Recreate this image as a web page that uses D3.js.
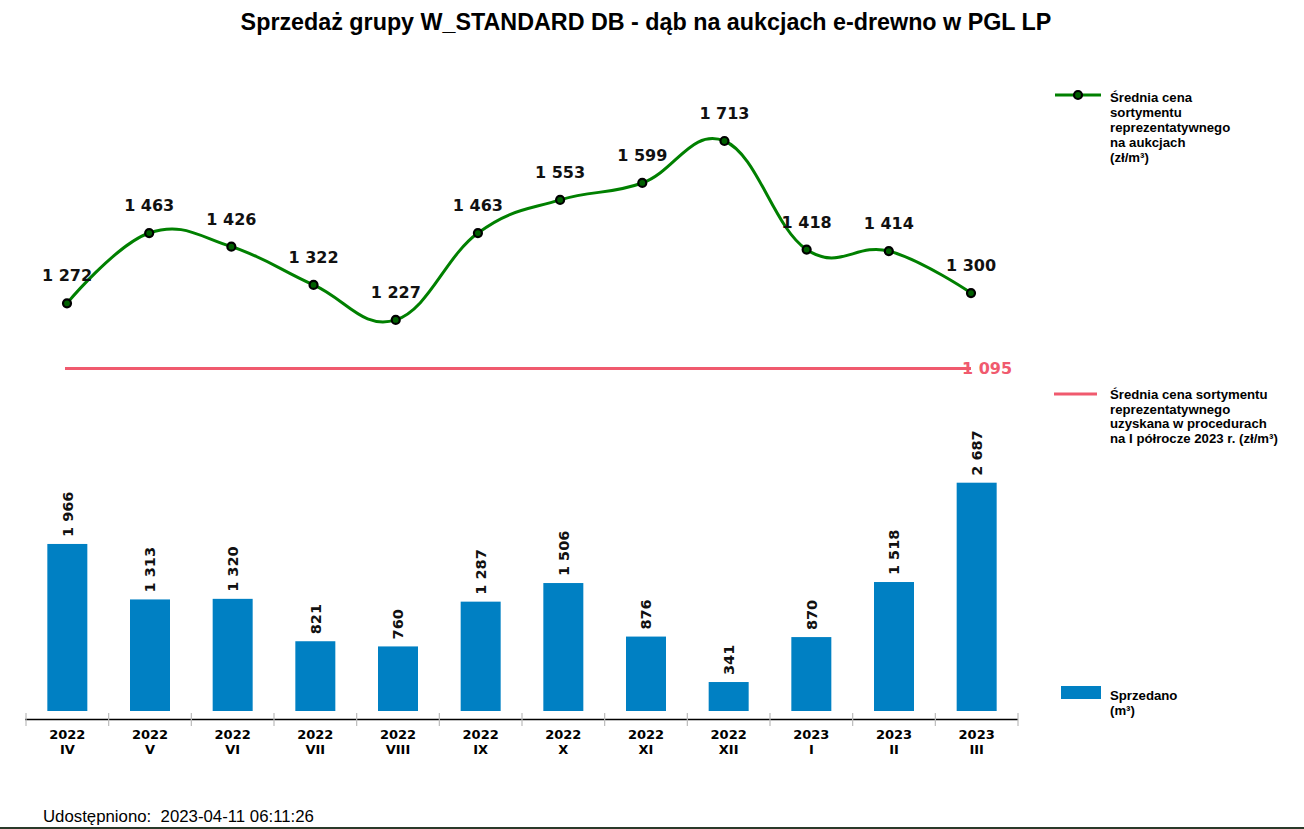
<!DOCTYPE html>
<html>
<head>
<meta charset="utf-8">
<script src="https://cdn.jsdelivr.net/npm/d3@7"></script>
<style>
  html, body { margin: 0; padding: 0; background: #fff; }
  svg { display: block; }
</style>
</head>
<body>
<script>
// ---- data ----
const years = ["2022","2022","2022","2022","2022","2022","2022","2022","2022","2023","2023","2023"];
const months = ["IV","V","VI","VII","VIII","IX","X","XI","XII","I","II","III"];
const soldValues = [1966, 1313, 1320, 821, 760, 1287, 1506, 876, 341, 870, 1518, 2687];
const priceValues = [1272, 1463, 1426, 1322, 1227, 1463, 1553, 1599, 1713, 1418, 1414, 1300];
const referencePrice = 1095;
const titleText = "Sprzedaż grupy W_STANDARD DB - dąb na aukcjach e-drewno w PGL LP";
const footerText = "Udostępniono:  2023-04-11 06:11:26";
const legendPrice = ["Średnia cena", "sortymentu", "reprezentatywnego", "na aukcjach", "(zł/m³)"];
const legendRef = ["Średnia cena sortymentu", "reprezentatywnego", "uzyskana w procedurach", "na I półrocze 2023 r. (zł/m³)"];
const legendSold = ["Sprzedano", "(m³)"];

const W = 1304, H = 829;
const fmt = v => d3.format(",")(v).replace(/,/g, " ");
const numFont = "'DejaVu Sans', sans-serif";
const txtFont = "'Liberation Sans', Arial, sans-serif";

const svg = d3.select("body").append("svg").attr("width", W).attr("height", H);

const idx = d3.range(soldValues.length);

// scales
const xBand = d3.scaleBand().domain(idx).range([26, 1018]).padding(0);
const xPoint = d3.scalePoint().domain(idx).range([67, 971]);
const yBar = d3.scaleLinear().domain([0, 3000]).range([711, 456.1]);
const yLine = d3.scaleLinear().domain([referencePrice, 1713]).range([368.5, 141]);

// title
svg.append("text").attr("x", 646).attr("y", 30).attr("text-anchor", "middle")
  .style("font-family", txtFont).style("font-weight", "bold").style("font-size", "23.3px")
  .attr("fill", "#000").text(titleText);

// bars
const barW = 40;
svg.append("g").selectAll("rect").data(idx).join("rect")
  .attr("x", i => xBand(i) + xBand.bandwidth() / 2 - barW / 2)
  .attr("y", i => yBar(soldValues[i]))
  .attr("width", barW)
  .attr("height", i => yBar(0) - yBar(soldValues[i]))
  .attr("fill", "#0080c3");

// bar labels
svg.append("g").selectAll("text").data(idx).join("text")
  .attr("transform", i => `translate(${xBand(i) + xBand.bandwidth() / 2},${yBar(soldValues[i]) - 7}) rotate(-90)`)
  .attr("dy", "0.36em")
  .attr("text-anchor", "start")
  .style("font-family", numFont).style("font-weight", "bold").style("font-size", "14.5px")
  .attr("fill", "#111").text(i => fmt(soldValues[i]));

// x axis
const axisY = 719.5;
const ax = svg.append("g");
ax.append("line").attr("x1", 25).attr("x2", 1018).attr("y1", axisY).attr("y2", axisY)
  .attr("stroke", "#000").attr("stroke-width", 1.6);
const tickPos = idx.map(i => xBand(i)).concat([xBand.range()[1]]);
ax.selectAll("line.tick").data(tickPos).join("line").attr("class", "tick")
  .attr("x1", d => d).attr("x2", d => d).attr("y1", 713).attr("y2", 726)
  .attr("stroke", "#bbb").attr("stroke-width", 1.2);
const tl = ax.selectAll("text.t").data(idx).join("text").attr("class", "t")
  .attr("x", i => xBand(i) + xBand.bandwidth() / 2)
  .attr("text-anchor", "middle")
  .style("font-family", numFont).style("font-weight", "bold").style("font-size", "13px")
  .attr("fill", "#000");
tl.append("tspan").attr("x", i => xBand(i) + xBand.bandwidth() / 2).attr("y", 739).text(i => years[i]);
tl.append("tspan").attr("x", i => xBand(i) + xBand.bandwidth() / 2).attr("y", 754).text(i => months[i]);

// reference line
svg.append("line")
  .attr("x1", xPoint(0) - 2).attr("x2", xPoint(idx.length - 1))
  .attr("y1", yLine(referencePrice)).attr("y2", yLine(referencePrice))
  .attr("stroke", "#f05a6e").attr("stroke-width", 3);
svg.append("text").attr("x", 962).attr("y", yLine(referencePrice)).attr("dy", "0.36em")
  .style("font-family", numFont).style("font-weight", "bold").style("font-size", "16px")
  .attr("fill", "#f05a6e").text(fmt(referencePrice));

// price line
const line = d3.line().x(i => xPoint(i)).y(i => yLine(priceValues[i])).curve(d3.curveCardinal.tension(-0.2));
svg.append("path").datum(idx).attr("d", line)
  .attr("fill", "none").attr("stroke", "#008000").attr("stroke-width", 3);
svg.append("g").selectAll("circle").data(idx).join("circle")
  .attr("cx", i => xPoint(i)).attr("cy", i => yLine(priceValues[i])).attr("r", 4)
  .attr("fill", "#006000").attr("stroke", "#000").attr("stroke-width", 2.2);
svg.append("g").selectAll("text").data(idx).join("text")
  .attr("x", i => xPoint(i)).attr("y", i => yLine(priceValues[i]) - 22)
  .attr("text-anchor", "middle")
  .style("font-family", numFont).style("font-weight", "bold").style("font-size", "16px")
  .attr("fill", "#111").text(i => fmt(priceValues[i]));

// legends
function legendText(lines, x, y0, lh) {
  const t = svg.append("text").style("font-family", txtFont).style("font-weight", "bold")
    .style("font-size", "13.2px").attr("fill", "#000");
  lines.forEach((s, k) => t.append("tspan").attr("x", x).attr("y", y0 + k * lh).text(s));
}
const lg = svg.append("g");
lg.append("line").attr("x1", 1055).attr("x2", 1101).attr("y1", 95).attr("y2", 95)
  .attr("stroke", "#008000").attr("stroke-width", 3);
lg.append("circle").attr("cx", 1078).attr("cy", 95).attr("r", 4)
  .attr("fill", "#006000").attr("stroke", "#000").attr("stroke-width", 2.2);
legendText(legendPrice, 1110, 102, 15);

lg.append("line").attr("x1", 1054).attr("x2", 1097).attr("y1", 394).attr("y2", 394)
  .attr("stroke", "#f05a6e").attr("stroke-width", 3);
legendText(legendRef, 1110, 399, 14.7);

lg.append("rect").attr("x", 1061).attr("y", 686).attr("width", 40).attr("height", 13).attr("fill", "#0080c3");
legendText(legendSold, 1110, 700, 14.5);

// footer
svg.append("text").attr("x", 43).attr("y", 822).attr("xml:space", "preserve")
  .style("white-space", "pre")
  .style("font-family", txtFont).style("font-size", "16.8px").attr("fill", "#000").text(footerText);
svg.append("rect").attr("x", 0).attr("y", 827).attr("width", W).attr("height", 2).attr("fill", "#2a3a2a");
</script>
</body>
</html>
